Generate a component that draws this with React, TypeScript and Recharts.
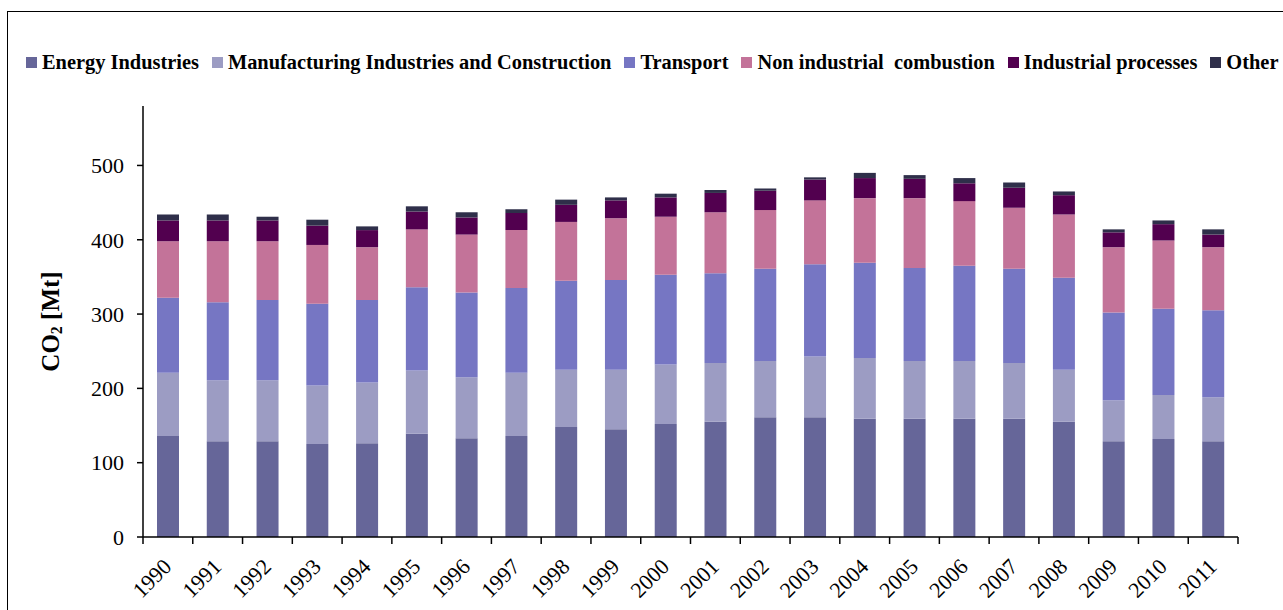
import { Bar, BarChart, Legend, XAxis, YAxis } from "recharts";

const years = [
  "1990", "1991", "1992", "1993", "1994", "1995", "1996", "1997", "1998", "1999", "2000",
  "2001", "2002", "2003", "2004", "2005", "2006", "2007", "2008", "2009", "2010", "2011",
];
const energy = [136, 129, 129, 125, 126, 139, 133, 136, 148, 145, 152, 155, 161, 161, 159, 159, 159, 159, 155, 129, 132, 129];
const manufacturing = [85, 82, 82, 79, 82, 85, 82, 85, 77, 80, 80, 79, 76, 82, 82, 78, 78, 75, 70, 55, 59, 59];
const transport = [101, 105, 108, 110, 111, 112, 114, 114, 120, 121, 121, 121, 124, 124, 128, 125, 128, 127, 124, 118, 116, 117];
const nonIndustrial = [76, 82, 79, 79, 71, 78, 78, 78, 79, 83, 78, 82, 79, 86, 87, 94, 87, 82, 85, 88, 92, 85];
const industrial = [28, 28, 28, 26, 23, 24, 23, 23, 23, 24, 26, 26, 26, 28, 27, 26, 24, 27, 26, 20, 22, 17];
const other = [8, 8, 5, 8, 5, 7, 7, 5, 7, 4, 5, 4, 3, 3, 7, 5, 7, 7, 5, 4, 5, 7];
const yTicks = [0, 100, 200, 300, 400, 500];

const SERIES = [
  { key: "energy", name: "Energy Industries", color: "#666699" },
  { key: "manufacturing", name: "Manufacturing Industries and Construction", color: "#9c9cc3" },
  { key: "transport", name: "Transport", color: "#7676c3" },
  { key: "nonIndustrial", name: "Non industrial  combustion", color: "#c37399" },
  { key: "industrial", name: "Industrial processes", color: "#52004f" },
  { key: "other", name: "Other", color: "#2f2f4a" },
];

const data = years.map((year, i) => ({
  year,
  energy: energy[i],
  manufacturing: manufacturing[i],
  transport: transport[i],
  nonIndustrial: nonIndustrial[i],
  industrial: industrial[i],
  other: other[i],
}));

const FONT = "'Liberation Serif', 'Times New Roman', serif";
const W = 1283;
const H = 610;
// x axis keeps its default 30px height, so bottom margin + 30 = 73
const MARGIN = { top: 106, right: 45, left: 83, bottom: 43 };
const Y_AXIS_W = 60;
const STEP = (W - MARGIN.left - Y_AXIS_W - MARGIN.right) / years.length;

function XTick(props: any) {
  const { x, y, payload, index } = props;
  const tx = x + 5;
  const ty = y + 31;
  return (
    <g>
      <line x1={x - STEP / 2} x2={x - STEP / 2} y1={y} y2={y + 7} stroke="#000" strokeWidth={1.5} />
      {index === years.length - 1 && (
        <line x1={x + STEP / 2} x2={x + STEP / 2} y1={y} y2={y + 7} stroke="#000" strokeWidth={1.5} />
      )}
      <text
        x={tx}
        y={ty}
        transform={`rotate(-45, ${tx}, ${ty})`}
        textAnchor="end"
        fontFamily={FONT}
        fontSize={22}
        fill="#000"
      >
        {payload.value}
      </text>
    </g>
  );
}

function YLabel(props: any) {
  const vb = props.viewBox || { y: 106, height: 431 };
  const cx = 50;
  const cy = vb.y + vb.height / 2;
  return (
    <text
      x={cx}
      y={cy}
      transform={`rotate(-90, ${cx}, ${cy})`}
      textAnchor="middle"
      dominantBaseline="central"
      fontFamily={FONT}
      fontWeight="bold"
      fontSize={25}
      fill="#000"
    >
      CO
      <tspan fontSize={16} dy={6}>2</tspan>
      <tspan dy={-6}> [Mt]</tspan>
    </text>
  );
}

function LegendRow() {
  return (
    <div
      style={{
        display: "flex",
        alignItems: "center",
        fontFamily: FONT,
        fontWeight: "bold",
        fontSize: 20.4,
        color: "#000",
        whiteSpace: "nowrap",
      }}
    >
      {SERIES.map((s) => (
        <span key={s.key} style={{ display: "flex", alignItems: "center", marginRight: 13 }}>
          <span style={{ width: 11, height: 11, background: s.color, marginRight: 5, display: "inline-block" }} />
          {s.name.replace(/ /g, "\u00a0")}
        </span>
      ))}
    </div>
  );
}

export default function App() {
  return (
    <div style={{ position: "absolute", left: 0, top: 0, width: W, height: H, overflow: "hidden", background: "#fff" }}>
      <div
        style={{
          position: "absolute",
          left: 7,
          top: 11,
          width: 1300,
          height: 700,
          border: "1.5px solid #000",
        }}
      />
      <div style={{ position: "absolute", left: 0, top: 0 }}>
        <BarChart width={W} height={H} data={data} margin={MARGIN} barSize={22}>
          <XAxis
            dataKey="year"
            interval={0}
            tickLine={false}
            tickSize={0}
            tickMargin={0}
            axisLine={{ stroke: "#000", strokeWidth: 1.5 }}
            tick={<XTick />}
          />
          <YAxis
            width={Y_AXIS_W}
            domain={[0, 580]}
            ticks={yTicks}
            interval={0}
            axisLine={{ stroke: "#000", strokeWidth: 1.5 }}
            tickLine={{ stroke: "#000", strokeWidth: 1.5 }}
            tickSize={6}
            tickMargin={13}
            tick={{ fontFamily: FONT, fontSize: 22, fill: "#000" }}
            label={<YLabel />}
          />
          <Legend
            layout="horizontal"
            verticalAlign="middle"
            align="center"
            content={<LegendRow />}
            wrapperStyle={{ left: 26, top: 51, width: 1270, margin: 0 }}
          />
          {SERIES.map((s) => (
            <Bar key={s.key} dataKey={s.key} name={s.name} stackId="a" fill={s.color} isAnimationActive={false} />
          ))}
        </BarChart>
      </div>
    </div>
  );
}
